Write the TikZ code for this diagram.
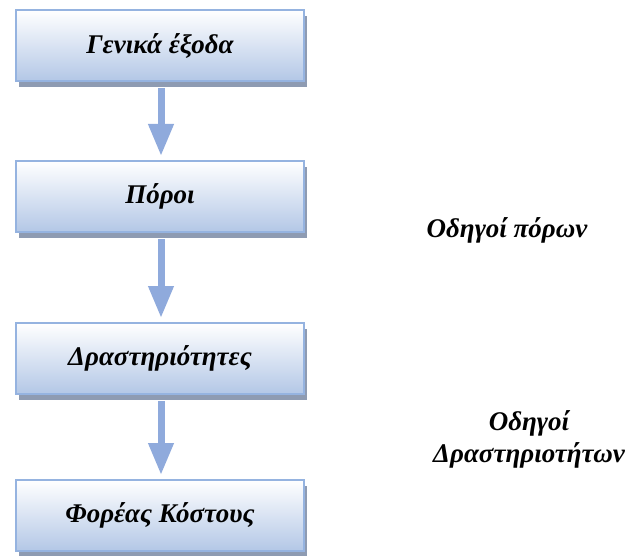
\documentclass[tikz,border=0pt]{standalone}
\usepackage{fontspec}
\setmainfont{Liberation Serif}
\usetikzlibrary{arrows.meta,shadows,calc}
\definecolor{boxline}{HTML}{95B3E0}
\definecolor{boxtop}{HTML}{FFFFFF}
\definecolor{boxbottom}{HTML}{B3C7E6}
\definecolor{boxshade}{HTML}{8E9BB2}
\definecolor{flowarrow}{HTML}{8FAADC}
\tikzset{
  stagebox/.style={draw=boxline, line width=2bp, top color=boxtop, bottom color=boxbottom,
    minimum width=288bp, minimum height=71bp, inner sep=0pt,
    font=\fontsize{27bp}{32bp}\selectfont\bfseries\itshape,
    drop shadow={shadow xshift=3bp, shadow yshift=-6bp, fill=boxshade, opacity=1}},
  flow/.style={draw=flowarrow, line width=7bp,
    -{Triangle[width=24bp,length=32bp]}, shorten >=4bp},
  driver/.style={font=\fontsize{27bp}{32bp}\selectfont\bfseries\itshape, align=center, inner sep=0pt}
}
\begin{document}
\begin{tikzpicture}[x=1bp,y=-1bp]
  \useasboundingbox (0,0) rectangle (637,556);
  % cost flow boxes
  \node[stagebox] (gen) at (160,45.5) {Γενικά έξοδα};
  \node[stagebox] (res) at (160,196.5) {Πόροι};
  \node[stagebox] (act) at (160,358.5) {Δραστηριότητες};
  \node[stagebox] (obj) at (160,515.5) {Φορέας Κόστους};
  % arrows leave from under the shadow
  \coordinate (gen-out) at ($(gen.south)+(1,6)$);
  \coordinate (res-out) at ($(res.south)+(1,6)$);
  \coordinate (act-out) at ($(act.south)+(1,6)$);
  \draw[flow] (gen-out) -- (gen-out |- res.north);
  \draw[flow] (res-out) -- (res-out |- act.north);
  \draw[flow] (act-out) -- (act-out |- obj.north);
  % drivers
  \node[driver, anchor=base] (rdrv) at (507,238) {Οδηγοί πόρων};
  \node[driver, anchor=base] (adrv) at (529,462) {Οδηγοί\\Δραστηριοτήτων};
\end{tikzpicture}
\end{document}
